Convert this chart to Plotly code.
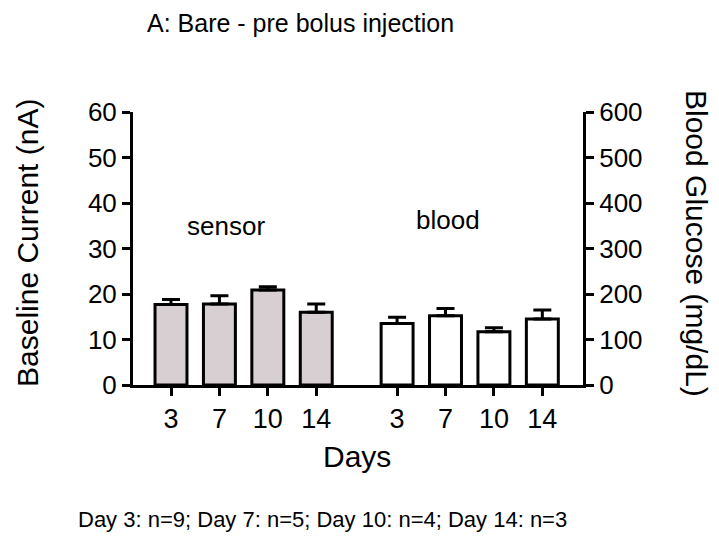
import plotly.graph_objects as go

days = ["3", "7", "10", "14"]
sensor_mean = [17.7, 17.8, 20.9, 16.0]
sensor_err = [1.1, 1.8, 0.7, 1.8]
blood_mean = [135, 152, 117, 145]
blood_err = [14, 16, 9, 20]

FONT = "Arial, Liberation Sans, sans-serif"
gap = 4.67
xs_sensor = [i for i in range(len(days))]
xs_blood = [i + gap for i in range(len(days))]

# page has an 8px body margin; work in window pixel coordinates
OFF = 8
W, H = 719 - OFF, 539 - OFF
PL, PR, PT, PB = 133, 583, 112, 385  # plot area in window px
ml, mr, mt, mb = PL - OFF, W - (PR - OFF), PT - OFF, H - (PB - OFF)
pw, ph = PR - PL, PB - PT


def px(x):
    return (x - PL) / pw


def py(y):
    return (PB - y) / ph


fig = go.Figure()
fig.add_trace(go.Bar(
    x=xs_sensor, y=sensor_mean, width=0.66,
    marker=dict(color="#d7cfd1", line=dict(color="black", width=3)),
    error_y=dict(type="data", symmetric=False, array=sensor_err,
                 arrayminus=[0] * 4, thickness=3, width=9, color="black"),
    yaxis="y", showlegend=False))
fig.add_trace(go.Bar(
    x=xs_blood, y=blood_mean, width=0.66,
    marker=dict(color="white", line=dict(color="black", width=3)),
    error_y=dict(type="data", symmetric=False, array=blood_err,
                 arrayminus=[0] * 4, thickness=3, width=9, color="black"),
    yaxis="y2", showlegend=False))

axis_common = dict(ticks="outside", ticklen=8, tickwidth=3, tickcolor="black",
                   showline=True, linewidth=3, linecolor="black",
                   showgrid=False, zeroline=False)

fig.update_layout(
    width=W, height=H,
    margin=dict(l=ml, r=mr, t=mt, b=mb, pad=0),
    paper_bgcolor="white", plot_bgcolor="white",
    barmode="overlay",
    font=dict(family=FONT, color="black"),
    xaxis=dict(range=[-0.785, 8.51], tickvals=xs_sensor + xs_blood,
               ticktext=days + days, tickfont=dict(size=27), **axis_common),
    yaxis=dict(range=[0, 60], tickvals=[0, 10, 20, 30, 40, 50, 60],
               tickfont=dict(size=26), **axis_common),
    yaxis2=dict(range=[0, 600], tickvals=[0, 100, 200, 300, 400, 500, 600],
                overlaying="y", side="right", anchor="x",
                tickfont=dict(size=26), **axis_common),
)


def ann(text, x, y, size, angle=0):
    return dict(text=text, x=px(x), y=py(y), xref="paper", yref="paper",
                xanchor="center", yanchor="middle", showarrow=False,
                textangle=angle, font=dict(size=size))


fig.update_layout(annotations=[
    ann("A: Bare - pre bolus injection", 300, 23, 25),
    ann("Baseline Current (nA)", 27, 243, 30, -90),
    ann("Blood Glucose (mg/dL)", 697, 243, 30, 90),
    ann("sensor", 226, 226, 26),
    ann("blood", 448, 220, 26),
    ann("Days", 357, 456, 30),
    ann("Day 3: n=9; Day 7: n=5; Day 10: n=4; Day 14: n=3", 322, 519, 22),
])

fig.write_html("out.html")
